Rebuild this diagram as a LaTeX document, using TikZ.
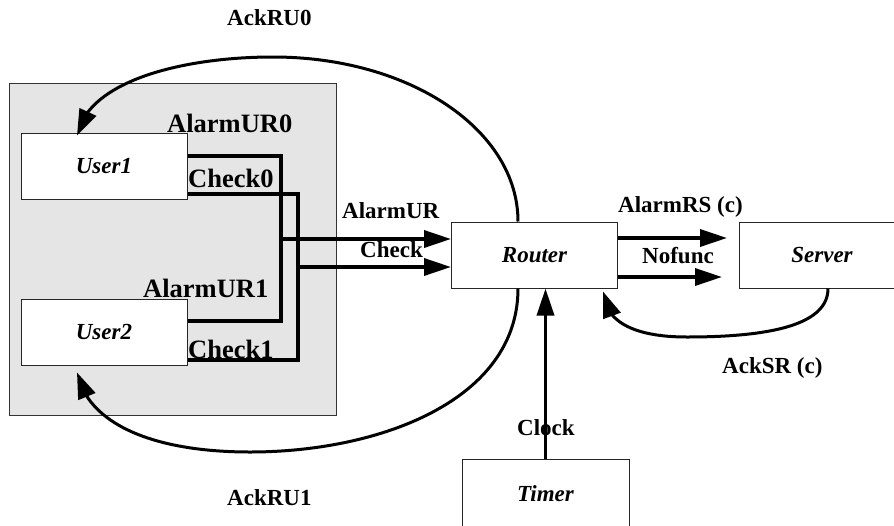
\documentclass[tikz,border=0pt]{standalone}
\usepackage{fontspec}
\setmainfont{Liberation Serif}
\usetikzlibrary{arrows.meta,bending}
\begin{document}
\begin{tikzpicture}[x=1pt,y=-1pt,
  box/.style={draw=black!85, line width=1pt, fill=white, inner sep=0pt,
    minimum width=166pt, minimum height=66pt,
    font=\fontsize{23}{27}\selectfont\bfseries\itshape},
  wire/.style={line width=3.5pt},
  flow/.style={wire, -{Triangle[length=27pt,width=17pt]}},
  ack/.style={line width=3pt, -{Triangle[length=26pt,width=18pt]}},
  lbl/.style={font=\fontsize{23}{27}\selectfont\bfseries, inner sep=0pt, anchor=base west},
  biglbl/.style={font=\fontsize{26.5}{30}\selectfont\bfseries, inner sep=0pt, anchor=base west}
]
\useasboundingbox (0,0) rectangle (894,525);
\clip (0,0) rectangle (894,525);

% user subsystem
\node[draw=black!80, fill=black!10, line width=1pt, inner sep=0pt,
      minimum width=326.5pt, minimum height=332pt] (users) at (172.75,249) {};

% components
\node[box] (user1)  at (104,166)   {User1};
\node[box] (user2)  at (104,332)   {User2};
\node[box] (router) at (534.5,255) {Router};
\node[box] (server) at (822,255)   {Server};
\node[box, minimum width=167pt, minimum height=69pt] (timer) at (545.5,494) {Timer};

% signal labels
\node[lbl]    (lAckRU0)  at (227,25)  {AckRU0};
\node[biglbl] (lAlarm0)  at (167,132) {AlarmUR0};
\node[biglbl] (lCheck0)  at (188,187) {Check0};
\node[biglbl] (lAlarm1)  at (143,297) {AlarmUR1};
\node[biglbl] (lCheck1)  at (188,358) {Check1};
\node[lbl]    (lAlarmUR) at (342,218) {AlarmUR};
\node[lbl]    (lCheck)   at (360,257) {Check};
\node[lbl]    (lAlarmRS) at (618,212) {AlarmRS (c)};
\node[lbl]    (lNofunc)  at (642,263) {Nofunc};
\node[lbl]    (lAckSR)   at (722,373) {AckSR (c)};
\node[lbl]    (lClock)   at (517,435) {Clock};
\node[lbl]    (lAckRU1)  at (227,505) {AckRU1};

% merged user signals
\coordinate (jA) at (281,239);
\coordinate (jC) at (298,267);
\draw[wire] ([yshift=10pt]user1.east) -| (jA) |- ([yshift=11pt]user2.east);
\draw[wire] ([yshift=-28pt]user1.east) -| (jC) |- ([yshift=-28pt]user2.east);
\draw[flow] (jA) -- (jA -| router.west);
\draw[flow] (jC) -- (jC -| router.west);

% router to server
\coordinate (rsA) at (727,238);
\coordinate (rsN) at (722,277);
\draw[flow] (rsA -| router.east) -- (rsA);
\draw[flow] (rsN -| router.east) -- (rsN);

% acknowledgements
\draw[ack] ([xshift=-16.5pt]router.north) .. controls (518,130) and (410,57) .. (273,57)
  .. controls (185,57) and (88,80) .. ([xshift=-27pt,yshift=-3pt]user1.north);
\draw[ack] ([xshift=-16.5pt]router.south) .. controls (518,400) and (380,452) .. (250,452)
  .. controls (155,452) and (88,425) .. ([xshift=-27pt,yshift=-7pt]user2.south);
\draw[ack] ([xshift=6pt]server.south) .. controls (828,325) and (770,337) .. (687,337)
  .. controls (640,337) and (605,325) .. ([xshift=-15pt,yshift=-3pt]router.south east);

% clock
\draw[flow] (timer.north) -- (timer.north |- router.south);
\end{tikzpicture}
\end{document}
